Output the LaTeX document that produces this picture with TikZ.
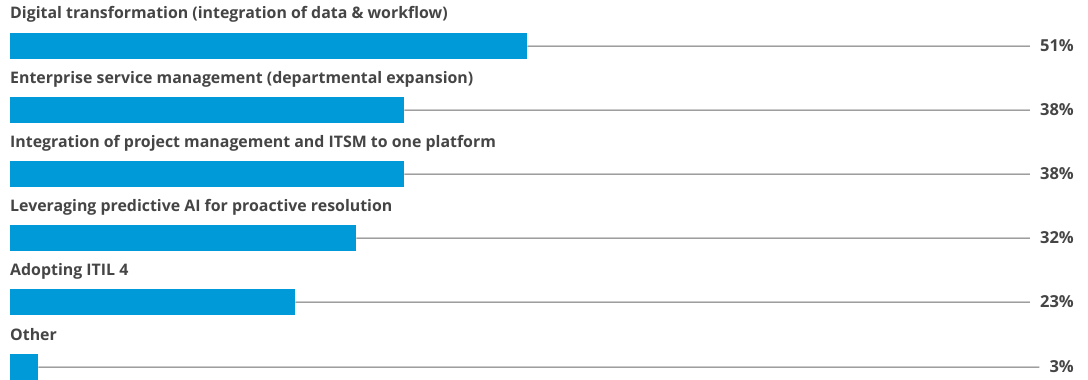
\documentclass[tikz,border=0pt]{standalone}
\usepackage{fontspec}
\setmainfont{Open Sans}
\usepackage{tikz}
\usetikzlibrary{positioning}
\definecolor{barblue}{HTML}{009AD9}
\definecolor{textgray}{HTML}{454545}
\definecolor{linegray}{HTML}{6A6A6A}

\begin{document}
\begin{tikzpicture}[
    x=1pt, y=-1pt,
    every node/.style={font=\fontsize{15.9}{18}\selectfont\bfseries, text=textgray},
    bar/.style={fill=barblue, inner sep=0pt, minimum height=26pt, anchor=north west},
    lbl/.style={anchor=base west, inner sep=0pt},
    pct/.style={anchor=east, inner sep=0pt, font=\fontsize{16.5}{18}\selectfont\bfseries},
    guide/.style={draw=linegray, line width=1pt, shorten >=10pt}
]
    \useasboundingbox (0,0) rectangle (1088,380);

    % Labels
    \node [lbl] (l1) at (10,19) {Digital transformation (integration of data \& workflow)};
    \node [lbl] (l2) at (10,83) {Enterprise service management (departmental expansion)};
    \node [lbl] (l3) at (10,147) {Integration of project management and ITSM to one platform};
    \node [lbl] (l4) at (10,211) {Leveraging predictive AI for proactive resolution};
    \node [lbl] (l5) at (10,275) {Adopting ITIL 4};
    \node [lbl] (l6) at (10,340) {Other};

    % Bars
    \node [bar, minimum width=517pt] (b1) at (10,33) {};
    \node [bar, minimum width=394pt] (b2) at (10,97) {};
    \node [bar, minimum width=394pt] (b3) at (10,161) {};
    \node [bar, minimum width=346pt] (b4) at (10,225) {};
    \node [bar, minimum width=285pt] (b5) at (10,289) {};
    \node [bar, minimum width=28pt] (b6) at (10,354) {};

    % Values
    \node [pct] (p1) at (1074,46) {51\%};
    \node [pct] (p2) at (1074,110) {38\%};
    \node [pct] (p3) at (1074,174) {38\%};
    \node [pct] (p4) at (1074,238) {32\%};
    \node [pct] (p5) at (1074,302) {23\%};
    \node [pct] (p6) at (1074,367) {3\%};

    % Guide lines
    \draw [guide] (b1.east) -- (p1.west);
    \draw [guide] (b2.east) -- (p2.west);
    \draw [guide] (b3.east) -- (p3.west);
    \draw [guide] (b4.east) -- (p4.west);
    \draw [guide] (b5.east) -- (p5.west);
    \draw [guide] (b6.east) -- (p6.west);
\end{tikzpicture}
\end{document}
